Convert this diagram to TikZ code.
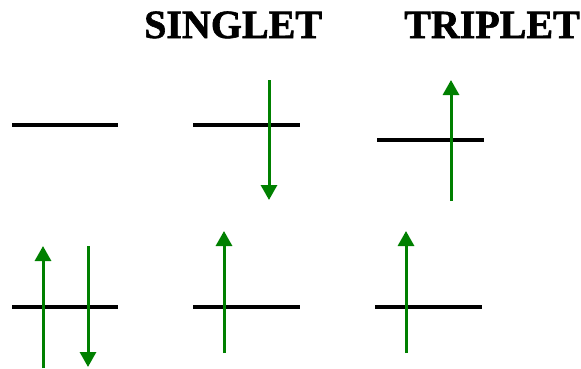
\documentclass[tikz,border=0pt]{standalone}
\usepackage{fontspec}
\setmainfont{Liberation Serif}
\newfontfamily\heavyserif{Liberation Serif Bold}[FakeBold=1.6]
\usetikzlibrary{arrows.meta}
\definecolor{spingreen}{HTML}{008000}
\begin{document}
\begin{tikzpicture}[x=1pt,y=-1pt,
  level/.style={line width=4pt, black},
  spin/.style={line width=3pt, spingreen, -{Triangle[width=16pt,length=15pt]}},
  title/.style={anchor=base west, inner sep=0pt, font=\heavyserif\fontsize{40}{40}\selectfont}]
\useasboundingbox (0,0) rectangle (581,368);
% titles
\node[title] (singlet) at (144,38) {SINGLET};
\node[title] (triplet) at (404,38) {TRIPLET};
% levels
\coordinate (l1a) at (12,125); \coordinate (l1b) at (118,125);
\coordinate (l2a) at (193,125); \coordinate (l2b) at (300,125);
\coordinate (l3a) at (377,140); \coordinate (l3b) at (484,140);
\coordinate (l4a) at (12,307); \coordinate (l4b) at (118,307);
\coordinate (l5a) at (193,307); \coordinate (l5b) at (300,307);
\coordinate (l6a) at (375,307); \coordinate (l6b) at (482,307);
\draw[level] (l1a) -- (l1b);
\draw[level] (l2a) -- (l2b);
\draw[level] (l3a) -- (l3b);
\draw[level] (l4a) -- (l4b);
\draw[level] (l5a) -- (l5b);
\draw[level] (l6a) -- (l6b);
% spins
\coordinate (s2a) at (269,80);  \coordinate (s2b) at (269,200);
\coordinate (s3a) at (451,201); \coordinate (s3b) at (451,80);
\coordinate (s4a) at (43,368);  \coordinate (s4b) at (43,246);
\coordinate (s5a) at (88,246);  \coordinate (s5b) at (88,367);
\coordinate (s6a) at (224,353); \coordinate (s6b) at (224,231);
\coordinate (s7a) at (406,353); \coordinate (s7b) at (406,231);
\draw[spin] (s2a) -- (s2b);
\draw[spin] (s3a) -- (s3b);
\draw[spin] (s4a) -- (s4b);
\draw[spin] (s5a) -- (s5b);
\draw[spin] (s6a) -- (s6b);
\draw[spin] (s7a) -- (s7b);
\end{tikzpicture}
\end{document}
